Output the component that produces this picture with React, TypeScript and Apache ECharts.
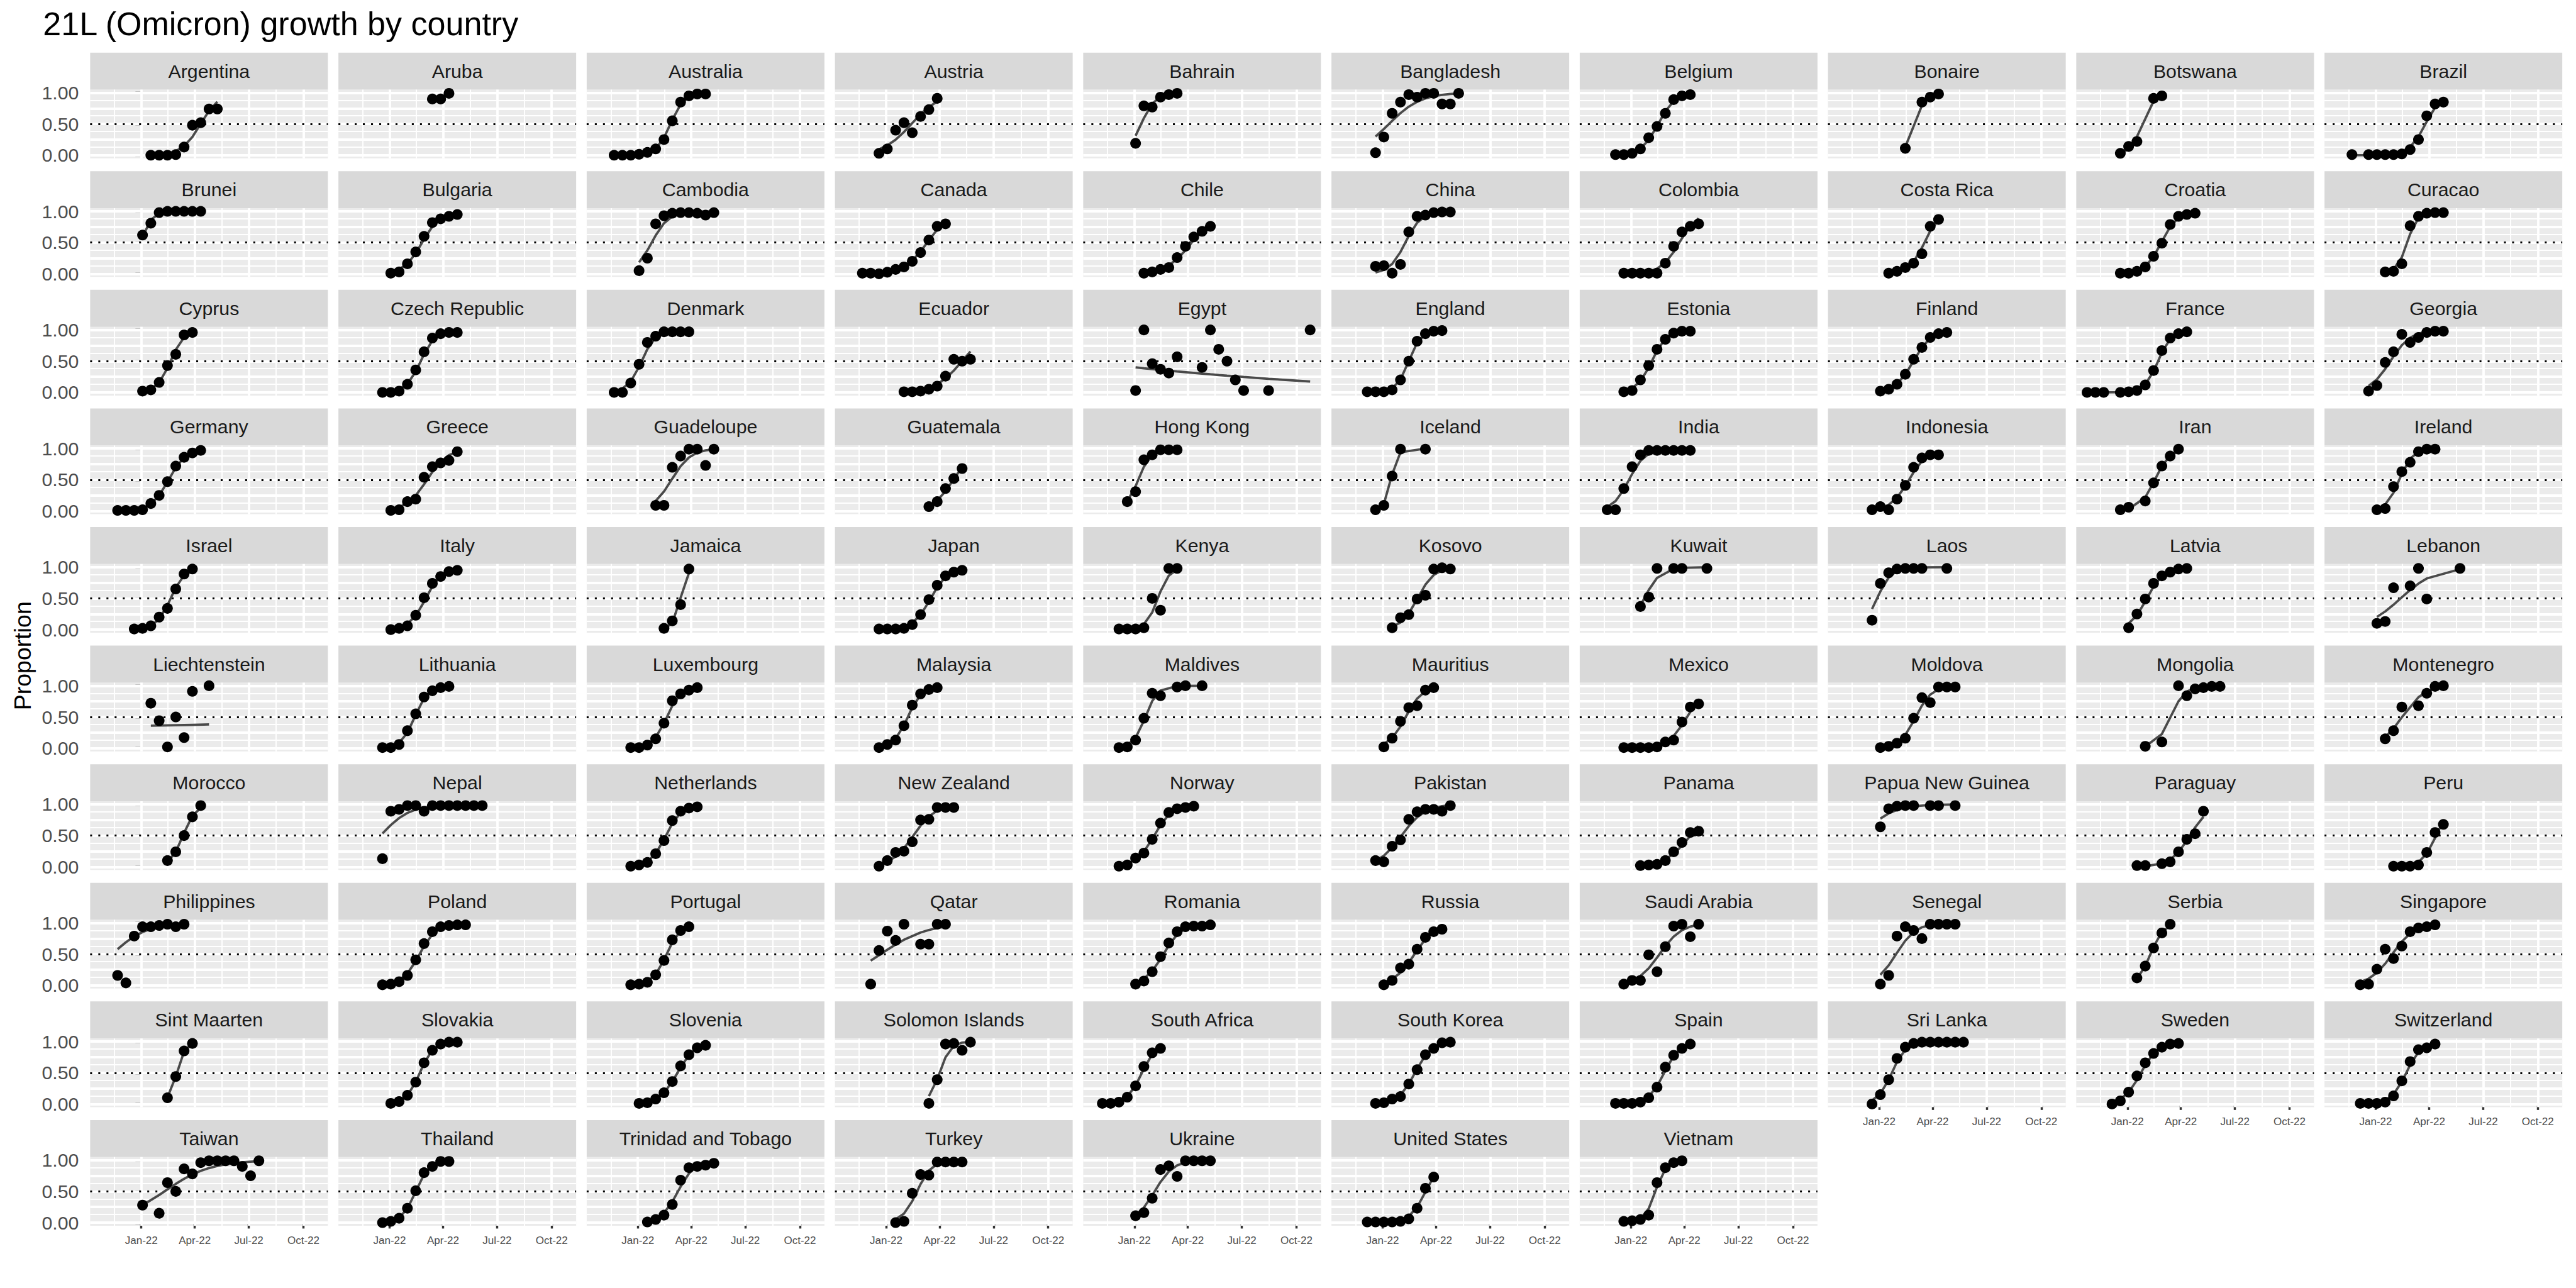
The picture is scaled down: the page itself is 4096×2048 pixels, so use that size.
import React, { useEffect, useRef } from 'react';
import * as echarts from 'echarts';

const W = 4096;
const H = 2048;
const S = W / 4800;
const FONT = '"Liberation Sans", Arial, Helvetica, sans-serif';

const titleText = '21L (Omicron) growth by country';
const yAxisTitle = 'Proportion';

const countryNames = [
  'Argentina', 'Aruba', 'Australia', 'Austria', 'Bahrain', 'Bangladesh', 'Belgium', 'Bonaire', 'Botswana', 'Brazil',
  'Brunei', 'Bulgaria', 'Cambodia', 'Canada', 'Chile', 'China', 'Colombia', 'Costa Rica', 'Croatia', 'Curacao',
  'Cyprus', 'Czech Republic', 'Denmark', 'Ecuador', 'Egypt', 'England', 'Estonia', 'Finland', 'France', 'Georgia',
  'Germany', 'Greece', 'Guadeloupe', 'Guatemala', 'Hong Kong', 'Iceland', 'India', 'Indonesia', 'Iran', 'Ireland',
  'Israel', 'Italy', 'Jamaica', 'Japan', 'Kenya', 'Kosovo', 'Kuwait', 'Laos', 'Latvia', 'Lebanon',
  'Liechtenstein', 'Lithuania', 'Luxembourg', 'Malaysia', 'Maldives', 'Mauritius', 'Mexico', 'Moldova', 'Mongolia', 'Montenegro',
  'Morocco', 'Nepal', 'Netherlands', 'New Zealand', 'Norway', 'Pakistan', 'Panama', 'Papua New Guinea', 'Paraguay', 'Peru',
  'Philippines', 'Poland', 'Portugal', 'Qatar', 'Romania', 'Russia', 'Saudi Arabia', 'Senegal', 'Serbia', 'Singapore',
  'Sint Maarten', 'Slovakia', 'Slovenia', 'Solomon Islands', 'South Africa', 'South Korea', 'Spain', 'Sri Lanka', 'Sweden', 'Switzerland',
  'Taiwan', 'Thailand', 'Trinidad and Tobago', 'Turkey', 'Ukraine', 'United States', 'Vietnam',
];

// sample dates, as days after 1 Jan 2022
const countryDays: number[][] = [
  [16, 30, 44, 58, 72, 86, 100, 114, 128],
  [72, 86, 100],
  [-40, -26, -12, 2, 16, 30, 44, 58, 72, 86, 100, 114],
  [-12, 2, 16, 30, 44, 58, 72, 86],
  [2, 16, 30, 44, 58, 72],
  [-12, 2, 16, 30, 44, 58, 72, 86, 100, 114, 128],
  [-26, -12, 2, 16, 30, 44, 58, 72, 86, 100],
  [44, 72, 86, 100],
  [-12, 2, 16, 44, 58],
  [-40, -12, 2, 16, 30, 44, 58, 72, 86, 100, 114],

  [2, 16, 30, 44, 58, 72, 86, 100],
  [2, 16, 30, 44, 58, 72, 86, 100, 114],
  [2, 16, 30, 44, 58, 72, 86, 100, 114, 128],
  [-40, -26, -12, 2, 16, 30, 44, 58, 72, 86, 100],
  [16, 30, 44, 58, 72, 86, 100, 114, 128],
  [-12, 2, 16, 30, 44, 58, 72, 86, 100, 114],
  [-12, 2, 16, 30, 44, 58, 72, 86, 100, 114],
  [16, 30, 44, 58, 72, 86, 100],
  [-12, 2, 16, 30, 44, 58, 72, 86, 100, 114],
  [16, 30, 44, 58, 72, 86, 100, 114],

  [2, 16, 30, 44, 58, 72, 86],
  [-12, 2, 16, 30, 44, 58, 72, 86, 100, 114],
  [-40, -26, -12, 2, 16, 30, 44, 58, 72, 86],
  [30, 44, 58, 72, 86, 100, 114, 128, 142],
  [2, 16, 30, 44, 58, 72, 114, 128, 142, 156, 170, 184, 226, 296],
  [-26, -12, 2, 16, 30, 44, 58, 72, 86, 100],
  [-12, 2, 16, 30, 44, 58, 72, 86, 100],
  [2, 16, 30, 44, 58, 72, 86, 100, 114],
  [-68, -54, -40, -12, 2, 16, 30, 44, 58, 72, 86, 100],
  [-12, 2, 16, 30, 44, 58, 72, 86, 100, 114],

  [-40, -26, -12, 2, 16, 30, 44, 58, 72, 86, 100],
  [2, 16, 30, 44, 58, 72, 86, 100, 114],
  [30, 44, 58, 72, 86, 100, 114, 128],
  [72, 86, 100, 114, 128],
  [-12, 2, 16, 30, 44, 58, 72],
  [-12, 2, 16, 30, 72],
  [-40, -26, -12, 2, 16, 30, 44, 58, 72, 86, 100],
  [-12, 2, 16, 30, 44, 58, 72, 86, 100],
  [-12, 2, 30, 44, 58, 72, 86],
  [2, 16, 30, 44, 58, 72, 86, 100],

  [-12, 2, 16, 30, 44, 58, 72, 86],
  [2, 16, 30, 44, 58, 72, 86, 100, 114],
  [44, 58, 72, 86],
  [-12, 2, 16, 30, 44, 58, 72, 86, 100, 114, 128],
  [-26, -12, 2, 16, 30, 44, 58, 72],
  [16, 30, 44, 58, 72, 86, 100, 114],
  [16, 30, 44, 72, 86, 128],
  [-12, 2, 16, 30, 44, 58, 72, 114],
  [2, 16, 30, 44, 58, 72, 86, 100],
  [2, 16, 30, 58, 72, 86, 142],

  [16, 30, 44, 58, 72, 86, 114],
  [-12, 2, 16, 30, 44, 58, 72, 86, 100],
  [-12, 2, 16, 30, 44, 58, 72, 86, 100],
  [-12, 2, 16, 30, 44, 58, 72, 86],
  [-26, -12, 2, 16, 30, 44, 72, 86, 114],
  [2, 16, 30, 44, 58, 72, 86],
  [-12, 2, 16, 30, 44, 58, 72, 86, 100, 114],
  [2, 16, 30, 44, 58, 72, 86, 100, 114, 128],
  [30, 58, 86, 100, 114, 128, 142, 156],
  [16, 30, 44, 72, 86, 100, 114],

  [44, 58, 72, 86, 100],
  [-12, 2, 16, 30, 44, 58, 72, 86, 100, 114, 128, 142, 156],
  [-12, 2, 16, 30, 44, 58, 72, 86, 100],
  [-12, 2, 16, 30, 44, 58, 72, 86, 100, 114],
  [-26, -12, 2, 16, 30, 44, 58, 72, 86, 100],
  [-12, 2, 16, 30, 44, 58, 72, 86, 100, 114],
  [16, 30, 44, 58, 72, 86, 100, 114],
  [2, 16, 30, 44, 58, 86, 100, 128],
  [16, 30, 58, 72, 86, 100, 114, 128],
  [30, 44, 58, 72, 86, 100, 114],

  [-40, -26, -12, 2, 16, 30, 44, 58, 72],
  [-12, 2, 16, 30, 44, 58, 72, 86, 100, 114, 128],
  [-12, 2, 16, 30, 44, 58, 72, 86],
  [-26, -12, 2, 16, 30, 58, 72, 86, 100],
  [2, 16, 30, 44, 58, 72, 86, 100, 114, 128],
  [2, 16, 30, 44, 58, 72, 86, 100],
  [-12, 2, 16, 30, 44, 58, 72, 86, 100, 114],
  [2, 16, 30, 44, 58, 72, 86, 100, 114, 128],
  [16, 30, 44, 58, 72],
  [-26, -12, 2, 16, 30, 44, 58, 72, 86, 100],

  [44, 58, 72, 86],
  [2, 16, 30, 44, 58, 72, 86, 100, 114],
  [2, 16, 30, 44, 58, 72, 86, 100, 114],
  [72, 86, 100, 114, 128, 142],
  [-54, -40, -26, -12, 2, 16, 30, 44],
  [-12, 2, 16, 30, 44, 58, 72, 86, 100, 114],
  [-26, -12, 2, 16, 30, 44, 58, 72, 86, 100],
  [-12, 2, 16, 30, 44, 58, 72, 86, 100, 114, 128, 142],
  [-26, -12, 2, 16, 30, 44, 58, 72, 86],
  [-26, -12, 2, 16, 30, 44, 58, 72, 86, 100],

  [2, 30, 44, 58, 72, 86, 100, 114, 128, 142, 156, 170, 184, 198],
  [-12, 2, 16, 30, 44, 58, 72, 86, 100],
  [16, 30, 44, 58, 72, 86, 100, 114, 128],
  [16, 30, 44, 58, 72, 86, 100, 114, 128],
  [2, 16, 30, 44, 58, 72, 86, 100, 114, 128],
  [-26, -12, 2, 16, 30, 44, 58, 72, 86],
  [-12, 2, 16, 30, 44, 58, 72, 86],
];

// proportion of 21L among sequences at each date
const countryProps: number[][] = [
  [0, 0, 0, 0.01, 0.13, 0.48, 0.52, 0.74, 0.74],
  [0.9, 0.9, 0.99],
  [0, 0, 0, 0.015, 0.045, 0.1, 0.25, 0.55, 0.85, 0.95, 0.98, 0.98],
  [0.03, 0.1, 0.4, 0.52, 0.36, 0.62, 0.73, 0.91],
  [0.19, 0.79, 0.77, 0.93, 0.97, 0.99],
  [0.04, 0.29, 0.67, 0.85, 0.97, 0.93, 0.99, 0.99, 0.82, 0.82, 0.99],
  [0.01, 0.01, 0.03, 0.1, 0.28, 0.46, 0.67, 0.89, 0.95, 0.97],
  [0.11, 0.85, 0.93, 0.98],
  [0.03, 0.14, 0.22, 0.91, 0.95],
  [0.01, 0.01, 0.01, 0.01, 0.01, 0.02, 0.09, 0.25, 0.63, 0.82, 0.85],

  [0.62, 0.81, 0.98, 1, 1, 1, 1, 1],
  [0.01, 0.03, 0.16, 0.35, 0.6, 0.82, 0.88, 0.92, 0.95],
  [0.05, 0.25, 0.8, 0.93, 0.97, 0.98, 0.98, 0.97, 0.94, 0.98],
  [0.01, 0.01, 0, 0.025, 0.07, 0.11, 0.2, 0.34, 0.54, 0.76, 0.8],
  [0.01, 0.03, 0.07, 0.1, 0.26, 0.44, 0.59, 0.68, 0.76],
  [0.12, 0.13, 0.01, 0.15, 0.67, 0.92, 0.94, 0.98, 0.99, 0.99],
  [0.01, 0.01, 0.01, 0.01, 0.01, 0.17, 0.44, 0.67, 0.76, 0.8],
  [0.01, 0.04, 0.1, 0.17, 0.32, 0.76, 0.87],
  [0.01, 0.01, 0.04, 0.11, 0.28, 0.49, 0.79, 0.92, 0.95, 0.97],
  [0.03, 0.04, 0.16, 0.77, 0.92, 0.97, 0.98, 0.98],

  [0.02, 0.04, 0.16, 0.43, 0.61, 0.92, 0.96],
  [0, 0, 0.02, 0.13, 0.36, 0.65, 0.87, 0.94, 0.96, 0.96],
  [0, 0, 0.15, 0.45, 0.8, 0.9, 0.97, 0.97, 0.97, 0.97],
  [0.01, 0.01, 0.02, 0.05, 0.1, 0.26, 0.53, 0.5, 0.53],
  [0.03, 1, 0.46, 0.37, 0.31, 0.57, 0.4, 1, 0.69, 0.5, 0.2, 0.03, 0.03, 1],
  [0.01, 0.01, 0.01, 0.04, 0.2, 0.5, 0.82, 0.94, 0.98, 0.99],
  [0.01, 0.03, 0.2, 0.43, 0.69, 0.85, 0.95, 0.98, 0.98],
  [0.02, 0.05, 0.13, 0.29, 0.53, 0.72, 0.88, 0.94, 0.96],
  [0, 0, 0, 0, 0.01, 0.03, 0.12, 0.35, 0.67, 0.87, 0.94, 0.97],
  [0.02, 0.11, 0.48, 0.65, 0.93, 0.8, 0.88, 0.96, 0.98, 0.98],

  [0.01, 0.01, 0.01, 0.02, 0.12, 0.25, 0.47, 0.72, 0.86, 0.93, 0.97],
  [0.01, 0.02, 0.15, 0.19, 0.54, 0.71, 0.77, 0.81, 0.95],
  [0.09, 0.09, 0.7, 0.88, 0.99, 0.99, 0.73, 0.99],
  [0.07, 0.15, 0.36, 0.52, 0.68],
  [0.15, 0.31, 0.82, 0.9, 0.98, 0.98, 0.98],
  [0.02, 0.09, 0.56, 0.99, 0.99],
  [0.02, 0.02, 0.36, 0.71, 0.9, 0.97, 0.97, 0.97, 0.97, 0.97, 0.97],
  [0.02, 0.07, 0.02, 0.19, 0.41, 0.7, 0.85, 0.9, 0.9],
  [0.02, 0.06, 0.16, 0.45, 0.72, 0.88, 0.99],
  [0.02, 0.04, 0.39, 0.63, 0.78, 0.95, 0.99, 0.99],

  [0.01, 0.02, 0.06, 0.2, 0.34, 0.65, 0.89, 0.97],
  [0, 0.02, 0.06, 0.23, 0.51, 0.74, 0.85, 0.93, 0.95],
  [0.02, 0.14, 0.4, 0.97],
  [0.01, 0.01, 0.01, 0.02, 0.08, 0.24, 0.48, 0.71, 0.86, 0.92, 0.95],
  [0.01, 0.01, 0.01, 0.03, 0.5, 0.31, 0.98, 0.98],
  [0.03, 0.19, 0.24, 0.49, 0.55, 0.97, 0.99, 0.97],
  [0.37, 0.52, 0.98, 0.98, 0.98, 0.98],
  [0.15, 0.74, 0.91, 0.97, 0.98, 0.98, 0.98, 0.98],
  [0.03, 0.25, 0.49, 0.74, 0.86, 0.92, 0.97, 0.98],
  [0.1, 0.13, 0.67, 0.7, 0.98, 0.49, 0.98],

  [0.72, 0.44, 0.02, 0.5, 0.17, 0.91, 1],
  [0.01, 0.01, 0.06, 0.28, 0.55, 0.82, 0.92, 0.97, 0.99],
  [0.01, 0.01, 0.05, 0.15, 0.4, 0.76, 0.87, 0.93, 0.97],
  [0.01, 0.06, 0.13, 0.36, 0.69, 0.87, 0.94, 0.97],
  [0.01, 0.02, 0.13, 0.48, 0.88, 0.84, 0.98, 1, 1],
  [0.02, 0.16, 0.43, 0.65, 0.68, 0.93, 0.97],
  [0.01, 0.01, 0.01, 0.01, 0.02, 0.1, 0.13, 0.42, 0.66, 0.71],
  [0.01, 0.03, 0.08, 0.16, 0.48, 0.81, 0.73, 0.98, 0.98, 0.98],
  [0.03, 0.1, 1, 0.84, 0.95, 0.97, 0.99, 0.99],
  [0.15, 0.28, 0.66, 0.68, 0.88, 0.99, 1],

  [0.1, 0.24, 0.5, 0.8, 0.98],
  [0.13, 0.89, 0.92, 0.98, 0.98, 0.89, 0.98, 0.98, 0.98, 0.98, 0.98, 0.98, 0.98],
  [0.01, 0.03, 0.07, 0.21, 0.42, 0.74, 0.89, 0.94, 0.96],
  [0.01, 0.1, 0.23, 0.25, 0.4, 0.75, 0.76, 0.95, 0.95, 0.95],
  [0.01, 0.03, 0.14, 0.22, 0.44, 0.7, 0.87, 0.93, 0.95, 0.97],
  [0.1, 0.08, 0.33, 0.43, 0.76, 0.88, 0.92, 0.92, 0.89, 0.98],
  [0.02, 0.03, 0.04, 0.1, 0.24, 0.39, 0.55, 0.57],
  [0.64, 0.93, 0.97, 0.98, 0.98, 0.98, 0.98, 0.98],
  [0.02, 0.02, 0.05, 0.08, 0.24, 0.44, 0.53, 0.89],
  [0.01, 0.01, 0.01, 0.03, 0.23, 0.55, 0.68],

  [0.16, 0.04, 0.79, 0.94, 0.94, 0.96, 0.98, 0.94, 0.98],
  [0.01, 0.02, 0.06, 0.16, 0.41, 0.67, 0.86, 0.94, 0.96, 0.97, 0.97],
  [0.01, 0.02, 0.05, 0.17, 0.4, 0.73, 0.88, 0.94],
  [0.02, 0.56, 0.87, 0.72, 0.98, 0.66, 0.66, 0.98, 0.98],
  [0.02, 0.07, 0.22, 0.46, 0.68, 0.86, 0.94, 0.95, 0.95, 0.97],
  [0.01, 0.08, 0.28, 0.34, 0.58, 0.77, 0.86, 0.9],
  [0.02, 0.08, 0.08, 0.49, 0.22, 0.62, 0.95, 0.98, 0.78, 0.98],
  [0.02, 0.16, 0.79, 0.94, 0.88, 0.75, 0.98, 0.98, 0.98, 0.98],
  [0.12, 0.31, 0.6, 0.84, 0.98],
  [0.01, 0.02, 0.26, 0.58, 0.43, 0.63, 0.86, 0.92, 0.94, 0.97],

  [0.1, 0.44, 0.85, 0.97],
  [0.01, 0.04, 0.14, 0.35, 0.66, 0.86, 0.96, 0.99, 0.99],
  [0.01, 0.02, 0.08, 0.18, 0.36, 0.61, 0.79, 0.9, 0.94],
  [0.01, 0.39, 0.96, 0.97, 0.86, 0.99],
  [0.01, 0.01, 0.03, 0.11, 0.29, 0.6, 0.82, 0.89],
  [0.01, 0.02, 0.08, 0.12, 0.32, 0.55, 0.79, 0.89, 0.98, 0.99],
  [0.01, 0.01, 0.01, 0.03, 0.1, 0.27, 0.59, 0.78, 0.89, 0.96],
  [0, 0.15, 0.39, 0.73, 0.91, 0.97, 0.99, 0.99, 0.99, 0.99, 0.99, 0.99],
  [0, 0.05, 0.19, 0.45, 0.66, 0.81, 0.91, 0.96, 0.97],
  [0.01, 0.01, 0.01, 0.03, 0.13, 0.37, 0.68, 0.87, 0.9, 0.96],

  [0.28, 0.15, 0.64, 0.5, 0.86, 0.78, 0.96, 0.99, 0.99, 0.99, 0.99, 0.9, 0.75, 0.99],
  [0, 0.02, 0.07, 0.23, 0.51, 0.8, 0.9, 0.98, 0.98],
  [0.01, 0.05, 0.12, 0.29, 0.68, 0.88, 0.9, 0.92, 0.95],
  [0, 0.02, 0.47, 0.77, 0.76, 0.97, 0.97, 0.97, 0.97],
  [0.11, 0.16, 0.39, 0.85, 0.91, 0.74, 0.99, 0.99, 0.99, 0.99],
  [0.01, 0.01, 0.01, 0.01, 0.02, 0.06, 0.23, 0.55, 0.73],
  [0.02, 0.03, 0.05, 0.12, 0.64, 0.88, 0.96, 0.99],
];

// fitted curve values at the first and last date, where the
// count-weighted fit departs from an unweighted one
const fitOverrideNames = ['Egypt', 'Liechtenstein', 'Philippines'];
const fitOverrideStart = [0.4, 0.36, 0.58];
const fitOverrideEnd = [0.175, 0.38, 0.985];

const xTickDays = [0, 90, 181, 273];
const xTickLabels = ['Jan-22', 'Apr-22', 'Jul-22', 'Oct-22'];
const xMinorDays = [-45.5, 45, 135.5, 227];
const yTicks = [0, 0.25, 0.5, 0.75, 1];
const yMinor = [0.125, 0.375, 0.625, 0.875];
const X_MIN = -86.2;
const X_MAX = 314.2;
const Y_MIN = -0.05;
const Y_MAX = 1.05;
const threshold = 0.5;

const NCOL = 10;
// layout (reference pixels, scaled by S)
const PANEL_LEFT0 = 168;
const PANEL_PITCH_X = 462.6;
const PANEL_W = 443;
const STRIP_TOP0 = 98;
const ROW_PITCH = 221;
const STRIP_H = 69;
const PANEL_H = 128;

const logit = (p: number) => Math.log(p / (1 - p));
const expit = (e: number) => 1 / (1 + Math.exp(-e));

// logistic regression fitted by IRLS
function fitLogistic(xs: number[], ys: number[]): number[] {
  const t = xs.map((x) => x / 100);
  let a = 0;
  let b = 0;
  for (let it = 0; it < 300; it++) {
    let s0 = 0, s1 = 0, s2 = 0, r0 = 0, r1 = 0;
    for (let i = 0; i < t.length; i++) {
      const eta = a + b * t[i];
      const mu = expit(eta);
      const w = Math.max(mu * (1 - mu), 1e-8);
      const wz = w * eta + (ys[i] - mu);
      s0 += w; s1 += w * t[i]; s2 += w * t[i] * t[i];
      r0 += wz; r1 += wz * t[i];
    }
    s2 += 1e-4;
    const det = s0 * s2 - s1 * s1;
    if (Math.abs(det) < 1e-14) break;
    const na = (r0 * s2 - s1 * r1) / det;
    const nb = (s0 * r1 - s1 * r0) / det;
    a += 0.6 * (na - a);
    b += 0.6 * (nb - b);
    b = Math.max(-80, Math.min(80, b));
    a = Math.max(-80, Math.min(80, a));
  }
  return t.map((tt) => expit(a + b * tt));
}

function fitCountry(name: string, xs: number[], ys: number[]): number[] {
  const k = fitOverrideNames.indexOf(name);
  if (k < 0) return fitLogistic(xs, ys);
  const x0 = xs[0];
  const x1 = xs[xs.length - 1];
  const e0 = logit(fitOverrideStart[k]);
  const e1 = logit(fitOverrideEnd[k]);
  const b = (e1 - e0) / (x1 - x0);
  return xs.map((x) => expit(e0 + b * (x - x0)));
}

export default function App() {
  const ref = useRef<HTMLDivElement>(null);

  useEffect(() => {
    document.body.style.margin = '0';
    if (!ref.current) return;
    const chart = echarts.init(ref.current, undefined, { renderer: 'svg' });

    const grids: any[] = [];
    const xAxes: any[] = [];
    const yAxes: any[] = [];
    const series: any[] = [];
    const graphics: any[] = [];

    const n = countryNames.length;
    const majorW = 4.4 * S;
    const minorW = 2.2 * S;
    const white = '#FFFFFF';

    for (let i = 0; i < n; i++) {
      const r = Math.floor(i / NCOL);
      const c = i % NCOL;
      const left = (PANEL_LEFT0 + PANEL_PITCH_X * c) * S;
      const stripTop = (STRIP_TOP0 + ROW_PITCH * r) * S;
      const top = stripTop + STRIP_H * S;
      const width = PANEL_W * S;
      const height = PANEL_H * S;
      const isBottom = i + NCOL >= n;
      const isLeft = c === 0;

      grids.push({
        left, top, width, height,
        show: true, backgroundColor: '#EBEBEB', borderWidth: 0, containLabel: false,
      });
      xAxes.push({
        gridIndex: i, type: 'value', min: X_MIN, max: X_MAX,
        axisLine: { show: false },
        splitLine: { show: false },
        axisTick: {
          show: isBottom, customValues: xTickDays, length: 11 * S,
          lineStyle: { color: '#333333', width: 4 * S },
        },
        axisLabel: {
          show: isBottom, customValues: xTickDays, margin: 17 * S,
          showMinLabel: true, showMaxLabel: true, hideOverlap: false,
          fontSize: 20 * S, color: '#4D4D4D', fontFamily: FONT,
          formatter: (v: number) => {
            const k = xTickDays.findIndex((d) => Math.abs(d - v) < 0.5);
            return k >= 0 ? xTickLabels[k] : '';
          },
        },
      });
      yAxes.push({
        gridIndex: i, type: 'value', min: Y_MIN, max: Y_MAX,
        axisLine: { show: false },
        splitLine: { show: false },
        axisTick: {
          show: isLeft, customValues: yTicks, length: 11 * S,
          lineStyle: { color: '#333333', width: 4 * S },
        },
        axisLabel: {
          show: isLeft, customValues: yTicks, margin: 21 * S,
          showMinLabel: true, showMaxLabel: true, hideOverlap: false,
          fontSize: 35.5 * S, lineHeight: 24, color: '#4D4D4D', fontFamily: FONT,
          formatter: (v: number) => v.toFixed(2),
        },
      });

      const days = countryDays[i];
      const props = countryProps[i];
      const pts = days.map((d, k) => [d, props[k]]);
      const fit = fitCountry(countryNames[i], days, props);
      const fitPts = days.map((d, k) => [d, fit[k]]);

      const gridLines: any[] = [];
      yMinor.forEach((v) => gridLines.push({ yAxis: v, lineStyle: { color: white, width: minorW, type: 'solid' } }));
      xMinorDays.forEach((v) => gridLines.push({ xAxis: v, lineStyle: { color: white, width: minorW, type: 'solid' } }));
      yTicks.forEach((v) => gridLines.push({ yAxis: v, lineStyle: { color: white, width: majorW, type: 'solid' } }));
      xTickDays.forEach((v) => gridLines.push({ xAxis: v, lineStyle: { color: white, width: majorW, type: 'solid' } }));
      gridLines.push({
        yAxis: threshold,
        lineStyle: { color: '#000000', width: 3.6 * S, type: [3.6 * S, 11.6 * S], cap: 'butt' },
      });

      series.push({
        type: 'line', xAxisIndex: i, yAxisIndex: i, data: pts,
        symbol: 'none', lineStyle: { opacity: 0, width: 0 }, silent: true, z: 1,
        markLine: {
          z: 1, zlevel: 0,
          silent: true, symbol: ['none', 'none'], label: { show: false },
          emphasis: { disabled: true }, animation: false, data: gridLines,
        },
      });
      series.push({
        type: 'line', xAxisIndex: i, yAxisIndex: i, data: fitPts,
        symbol: 'none', silent: true, z: 3,
        lineStyle: { color: '#4A4A4A', width: 4.4 * S, opacity: 1 },
      });
      series.push({
        type: 'scatter', xAxisIndex: i, yAxisIndex: i, data: pts,
        symbol: 'circle', symbolSize: 20 * S, silent: true, z: 4,
        itemStyle: { color: '#000000', opacity: 1 },
      });

      graphics.push({
        type: 'rect', silent: true,
        shape: { x: left, y: stripTop, width, height: STRIP_H * S },
        style: { fill: '#D9D9D9' },
      });
      graphics.push({
        type: 'text', silent: true,
        x: left + width / 2, y: stripTop + (STRIP_H * S) / 2,
        style: {
          text: countryNames[i], x: 0, y: 0, align: 'center', verticalAlign: 'middle',
          fontSize: 35.5 * S, fill: '#1A1A1A', fontFamily: FONT,
        },
      });
    }

    graphics.push({
      type: 'text', silent: true, x: 80 * S, y: 44 * S,
      style: {
        text: titleText, x: 0, y: 0, align: 'left', verticalAlign: 'middle',
        fontSize: 61 * S, fill: '#000000', fontFamily: FONT,
      },
    });
    graphics.push({
      type: 'text', silent: true, x: 42 * S, y: 1222 * S, rotation: Math.PI / 2,
      style: {
        text: yAxisTitle, x: 0, y: 0, align: 'center', verticalAlign: 'middle',
        fontSize: 44 * S, fill: '#000000', fontFamily: FONT,
      },
    });

    chart.setOption({
      animation: false,
      backgroundColor: '#FFFFFF',
      grid: grids,
      xAxis: xAxes,
      yAxis: yAxes,
      series,
      graphic: graphics,
    });

    return () => chart.dispose();
  }, []);

  return <div ref={ref} style={{ width: W, height: H }} />;
}
